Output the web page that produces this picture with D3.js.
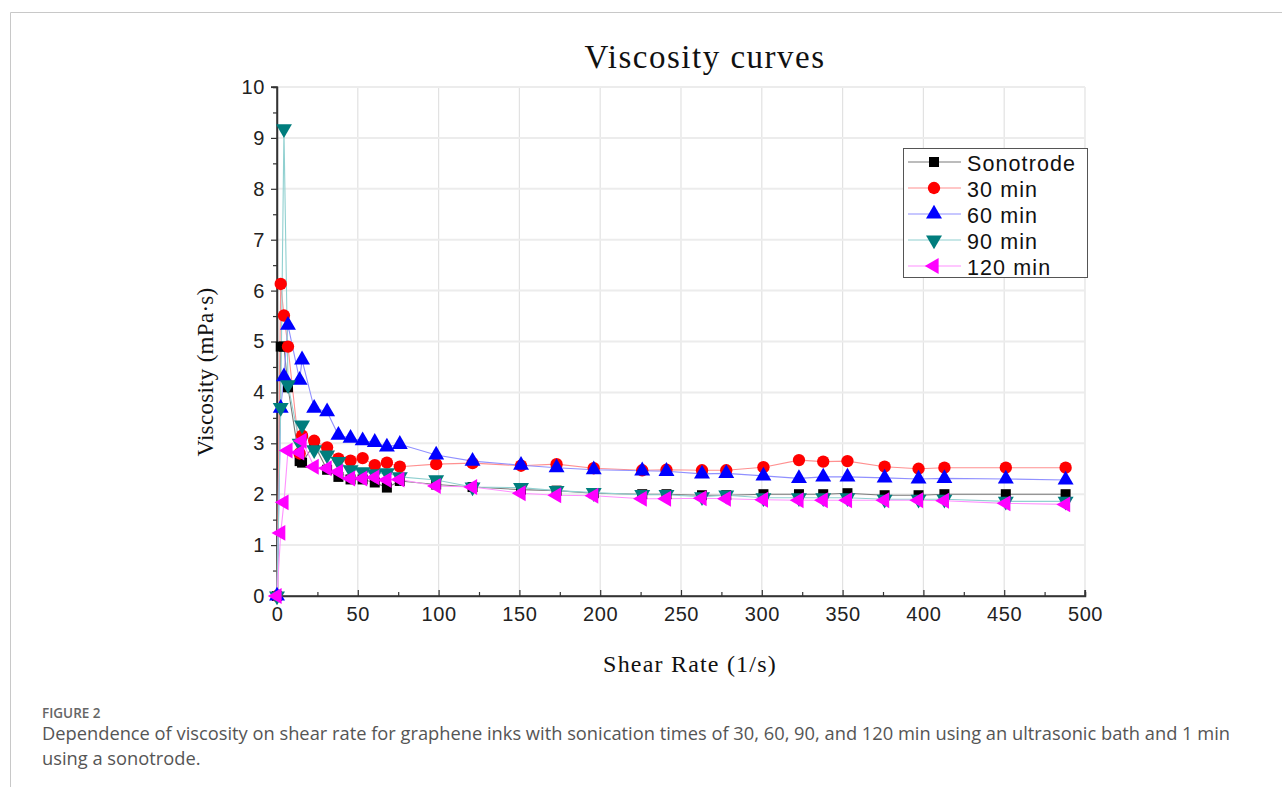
<!DOCTYPE html>
<html><head><meta charset="utf-8">
<script src="https://cdn.jsdelivr.net/npm/d3@7"></script>
<style>
html,body{margin:0;padding:0;background:#fff;}
svg{display:block;}
</style></head>
<body>
<svg id="c" width="1282" height="787"></svg>
<script>
// ---- data ----
const shearRate = [0, 2.3, 4.3, 6.8, 14, 15.5, 23, 31, 38, 45.5, 53, 60.5, 68, 76, 98.5, 121, 151, 173, 196, 226, 241, 263, 278, 301, 323, 338, 353, 376, 397, 413, 451, 488];
const sonotrode = [0, 4.9, 4.9, 4.1, 2.65, 2.62, 2.98, 2.48, 2.34, 2.29, 2.29, 2.23, 2.13, 2.26, 2.19, 2.14, 2.09, 2.07, 2.02, 2.0, 2.0, 1.98, 1.98, 2.0, 2.0, 2.0, 2.02, 1.98, 1.98, 2.0, 2.0, 2.0];
const min30 = [0, 6.13, 5.51, 4.9, 2.8, 3.15, 3.05, 2.92, 2.7, 2.66, 2.71, 2.57, 2.62, 2.54, 2.59, 2.61, 2.56, 2.59, 2.51, 2.47, 2.48, 2.47, 2.47, 2.53, 2.67, 2.64, 2.65, 2.54, 2.5, 2.52, 2.52, 2.52];
const min60 = [0, 3.69, 4.31, 5.32, 4.24, 4.64, 3.69, 3.62, 3.16, 3.1, 3.05, 3.02, 2.93, 2.98, 2.77, 2.65, 2.57, 2.52, 2.48, 2.46, 2.45, 2.4, 2.41, 2.36, 2.31, 2.34, 2.34, 2.32, 2.3, 2.31, 2.3, 2.28];
const min90 = [0, 3.7, 9.18, 4.15, 3.0, 3.36, 2.87, 2.77, 2.64, 2.48, 2.44, 2.4, 2.42, 2.34, 2.28, 2.14, 2.13, 2.07, 2.03, 1.99, 1.99, 1.95, 1.98, 1.93, 1.93, 1.93, 1.93, 1.9, 1.9, 1.9, 1.86, 1.86];
const min120 = [0, 1.24, 1.84, 2.86, 2.82, 3.05, 2.54, 2.51, 2.44, 2.31, 2.31, 2.33, 2.28, 2.29, 2.16, 2.14, 2.02, 1.98, 1.97, 1.91, 1.91, 1.92, 1.91, 1.89, 1.88, 1.88, 1.88, 1.88, 1.88, 1.87, 1.82, 1.80];
const seriesNames = ["Sonotrode", "30 min", "60 min", "90 min", "120 min"];
const xTicks = [0, 50, 100, 150, 200, 250, 300, 350, 400, 450, 500];
const yTicks = [0, 1, 2, 3, 4, 5, 6, 7, 8, 9, 10];

// ---- styles ----
const styles = [
  {marker: "square",   fill: "#000000", line: "#7a7a7a"},
  {marker: "circle",   fill: "#ff0000", line: "#ff9090"},
  {marker: "triUp",    fill: "#0000ff", line: "#9090ff"},
  {marker: "triDown",  fill: "#007d7d", line: "#90d0d0"},
  {marker: "triLeft",  fill: "#ff00ff", line: "#ff90ff"}
];
const allValues = [sonotrode, min30, min60, min90, min120];

const svg = d3.select("#c");
// frame
svg.append("path").attr("d","M10.5,787 L10.5,12.5 L1282,12.5").attr("fill","none").attr("stroke","#c8c8c8").attr("stroke-width",1);

const L = 277, R = 1085, T = 87, B = 596;
const x = d3.scaleLinear().domain([0, 500]).range([L, R]);
const y = d3.scaleLinear().domain([0, 10]).range([B, T]);

const g = svg.append("g");
// grid
g.selectAll(".vg").data(xTicks.filter(d=>d>0)).enter().append("line")
  .attr("x1", d=>x(d)).attr("x2", d=>x(d)).attr("y1", T).attr("y2", B)
  .attr("stroke", "#e2e2e2").attr("stroke-width", 1.2);
g.selectAll(".hg").data(yTicks.filter(d=>d>0)).enter().append("line")
  .attr("x1", L).attr("x2", R).attr("y1", d=>y(d)).attr("y2", d=>y(d))
  .attr("stroke", "#ececec").attr("stroke-width", 2);

// axes
const fontAx = "'Liberation Sans', Arial, sans-serif";
const yAxis = g.append("g").attr("transform", `translate(${L},0)`)
  .call(d3.axisLeft(y).tickValues(yTicks).tickSize(6).tickPadding(6).tickFormat(d3.format("d")));
const yMinor = g.append("g").attr("transform", `translate(${L},0)`)
  .call(d3.axisLeft(y).tickValues(d3.range(0.5, 10, 1)).tickSize(4).tickFormat(""));
const xAxis = g.append("g").attr("transform", `translate(0,${B})`)
  .call(d3.axisBottom(x).tickValues(xTicks).tickSize(-6).tickPadding(10).tickFormat(d3.format("d")));
const xMinor = g.append("g").attr("transform", `translate(0,${B})`)
  .call(d3.axisBottom(x).tickValues(d3.range(25, 500, 50)).tickSize(-4).tickFormat(""));
[yAxis, yMinor, xAxis, xMinor].forEach(a => {
  a.select(".domain").attr("stroke", "#333").attr("stroke-width", 1.5);
  a.selectAll(".tick line").attr("stroke", "#333").attr("stroke-width", 1.2);
  a.selectAll("text").attr("font-family", fontAx).attr("font-size", 20).attr("letter-spacing", 0.6).attr("fill", "#222");
});
yAxis.select(".domain").attr("d", `M-6,${T}H0V${B}H-6`);
xAxis.select(".domain").attr("d", `M${L-6},0H${R}V-6`);
xAxis.selectAll("text").attr("dy", "0.71em").attr("y", 11);

// lines and markers
const sym = {
  square: d3.symbol().type(d3.symbolSquare).size(100),
  circle: d3.symbol().type(d3.symbolCircle).size(120),
  triUp: d3.symbol().type(d3.symbolTriangle).size(110),
  triDown: d3.symbol().type(d3.symbolTriangle).size(110),
  triLeft: d3.symbol().type(d3.symbolTriangle).size(110)
};
const rot = {square:0, circle:0, triUp:0, triDown:180, triLeft:-90};
const line = d3.line().x(d=>x(d[0])).y(d=>y(d[1]));
const plot = g.append("g");
allValues.forEach((vals, i) => {
  const pts = shearRate.map((s, j) => [s, vals[j]]);
  plot.append("path").datum(pts).attr("d", line).attr("fill", "none")
    .attr("stroke", styles[i].line).attr("stroke-width", 1.1);
});
allValues.forEach((vals, i) => {
  const pts = shearRate.map((s, j) => [s, vals[j]]);
  plot.selectAll(null).data(pts).enter().append("path")
    .attr("d", sym[styles[i].marker])
    .attr("transform", d => `translate(${x(d[0])},${y(d[1])}) rotate(${rot[styles[i].marker]})`)
    .attr("fill", styles[i].fill);
});

// legend
const lg = svg.append("g").attr("transform", "translate(903,148)");
lg.append("rect").attr("x", 0.5).attr("y", 0.5).attr("width", 184).attr("height", 129)
  .attr("fill", "#fff").attr("stroke", "#555").attr("stroke-width", 1);
seriesNames.forEach((n, i) => {
  const yy = 14 + i * 26;
  lg.append("line").attr("x1", 5).attr("x2", 58).attr("y1", yy).attr("y2", yy)
    .attr("stroke", styles[i].line).attr("stroke-width", 1.1);
  lg.append("path").attr("d", sym[styles[i].marker])
    .attr("transform", `translate(31,${yy}) rotate(${rot[styles[i].marker]})`)
    .attr("fill", styles[i].fill);
  lg.append("text").attr("x", 64).attr("y", yy + 1).attr("dy", "0.35em")
    .attr("font-family", fontAx).attr("font-size", 21.5).attr("letter-spacing", 1.1)
    .attr("fill", "#111").text(n);
});

// titles
const serif = "'Liberation Serif', 'Times New Roman', serif";
svg.append("text").attr("x", 705).attr("y", 68).attr("text-anchor", "middle")
  .attr("font-family", serif).attr("font-size", 33).attr("letter-spacing", 1.5)
  .attr("fill", "#111").text("Viscosity curves");
svg.append("text").attr("x", 690).attr("y", 672).attr("text-anchor", "middle")
  .attr("font-family", serif).attr("font-size", 24).attr("letter-spacing", 1.2)
  .attr("fill", "#111").text("Shear Rate (1/s)");
svg.append("text").attr("transform", "translate(213,372) rotate(-90)").attr("text-anchor", "middle")
  .attr("font-family", serif).attr("font-size", 23).attr("letter-spacing", 0.3)
  .attr("fill", "#111").text("Viscosity (mPa·s)");

// caption
const capFont = "'Open Sans', 'Noto Sans', sans-serif";
svg.append("text").attr("x", 42).attr("y", 718).attr("font-family", capFont)
  .attr("font-size", 13.5).attr("font-weight", 600).attr("fill", "#666").text("FIGURE 2");
svg.append("text").attr("x", 42).attr("y", 740).attr("font-family", capFont)
  .attr("font-size", 18.3).attr("fill", "#555")
  .text("Dependence of viscosity on shear rate for graphene inks with sonication times of 30, 60, 90, and 120 min using an ultrasonic bath and 1 min");
svg.append("text").attr("x", 42).attr("y", 765).attr("font-family", capFont)
  .attr("font-size", 18.3).attr("fill", "#555").text("using a sonotrode.");
</script>
</body></html>
